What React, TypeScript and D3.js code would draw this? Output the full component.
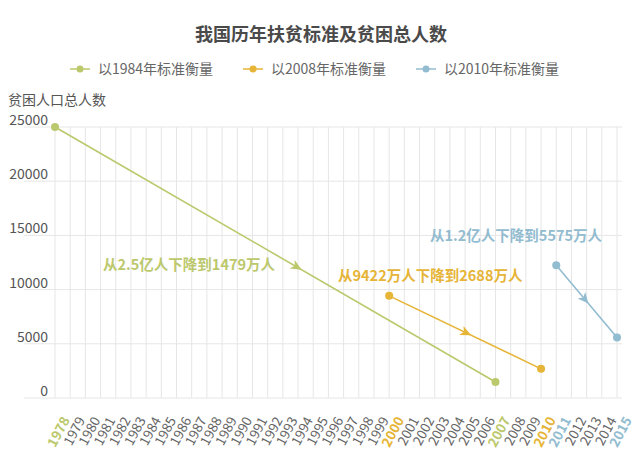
import React from "react";
import * as d3 from "d3";

const years = d3.range(1978, 2016).map(String);
const yTicks = [0, 5000, 10000, 15000, 20000, 25000];
const seriesNames = ["以1984年标准衡量", "以2008年标准衡量", "以2010年标准衡量"];
const seriesColors = ["#bcc86c", "#e6b437", "#92bcd0"];
const series1984 = [{ year: "1978", value: 25000 }, { year: "2007", value: 1479 }];
const series2008 = [{ year: "2000", value: 9422 }, { year: "2010", value: 2688 }];
const series2010 = [{ year: "2011", value: 12238 }, { year: "2015", value: 5575 }];
const notes = ["从2.5亿人下降到1479万人", "从9422万人下降到2688万人", "从1.2亿人下降到5575万人"];
const highlightYears: Record<string, number> = { "1978": 0, "2007": 0, "2000": 1, "2010": 1, "2011": 2, "2015": 2 };

export default function App() {
  const W = 642, H = 450;
  const x = d3.scalePoint<string>().domain(years).range([55, 617]);
  const y = d3.scaleLinear().domain([0, 25000]).range([398, 127]);
  const allSeries = [series1984, series2008, series2010];
  const notePos = [
    { x: 103, y: 265 },
    { x: 338, y: 276 },
    { x: 430, y: 236 },
  ];
  const arrowT = [0.56, 0.54, 0.53];
  const font = "'Noto Sans CJK SC', 'Noto Sans', sans-serif";
  return (
    <svg width={W} height={H} style={{ position: "absolute", left: 0, top: 0, background: "#fff" }} fontFamily={font}>
      <text x={321} y={41} textAnchor="middle" fontSize={18} fontWeight="bold" fill="#4a4a4a">我国历年扶贫标准及贫困总人数</text>
      {seriesNames.map((n, i) => {
        const lx = [70, 243, 416][i];
        return (
          <g key={n}>
            <line x1={lx} x2={lx + 20} y1={69} y2={69} stroke={seriesColors[i]} strokeWidth={1.5} />
            <circle cx={lx + 10} cy={69} r={3.5} fill={seriesColors[i]} />
            <text x={lx + 28} y={74} fontSize={14} fill="#666">{n}</text>
          </g>
        );
      })}
      <text x={8} y={105} fontSize={14} fill="#555">贫困人口总人数</text>
      {years.map((yr) => (
        <line key={yr} x1={x(yr)} x2={x(yr)} y1={y(25000)} y2={y(0)} stroke="#e6e6e6" strokeWidth={1} />
      ))}
      {yTicks.map((t) => (
        <g key={t}>
          <line x1={24} x2={622} y1={y(t)} y2={y(t)} stroke="#e6e6e6" strokeWidth={1} />
          <text x={48} y={y(t) - 2} textAnchor="end" fontSize={14} fill="#555">{t}</text>
        </g>
      ))}
      {years.map((yr) => {
        const h = highlightYears[yr];
        const px = x(yr)! + 4;
        const py = 414;
        return (
          <text key={yr} x={px} y={py} textAnchor="end" fontSize={13.5} fill={h === undefined ? "#666" : seriesColors[h]}
            fontWeight={h === undefined ? "normal" : "bold"}
            transform={`rotate(-62 ${px} ${py})`} dominantBaseline="hanging">{yr}</text>
        );
      })}
      {allSeries.map((s, i) => {
        const x1 = x(s[0].year)!, y1 = y(s[0].value);
        const x2 = x(s[1].year)!, y2 = y(s[1].value);
        const t = arrowT[i];
        const ax = x1 + (x2 - x1) * t, ay = y1 + (y2 - y1) * t;
        const ang = (Math.atan2(y2 - y1, x2 - x1) * 180) / Math.PI;
        return (
          <g key={i}>
            <line x1={x1} y1={y1} x2={x2} y2={y2} stroke={seriesColors[i]} strokeWidth={1.6} />
            <path d="M0,0 L-11,-5 L-8,0 L-11,5 Z" fill={seriesColors[i]} transform={`translate(${ax},${ay}) rotate(${ang})`} />
            {s.map((d) => (
              <circle key={d.year} cx={x(d.year)} cy={y(d.value)} r={4} fill={seriesColors[i]} />
            ))}
            <text x={notePos[i].x} y={notePos[i].y + 5} fontSize={14.5} fontWeight="bold" fill={seriesColors[i]}>{notes[i]}</text>
          </g>
        );
      })}
    </svg>
  );
}
